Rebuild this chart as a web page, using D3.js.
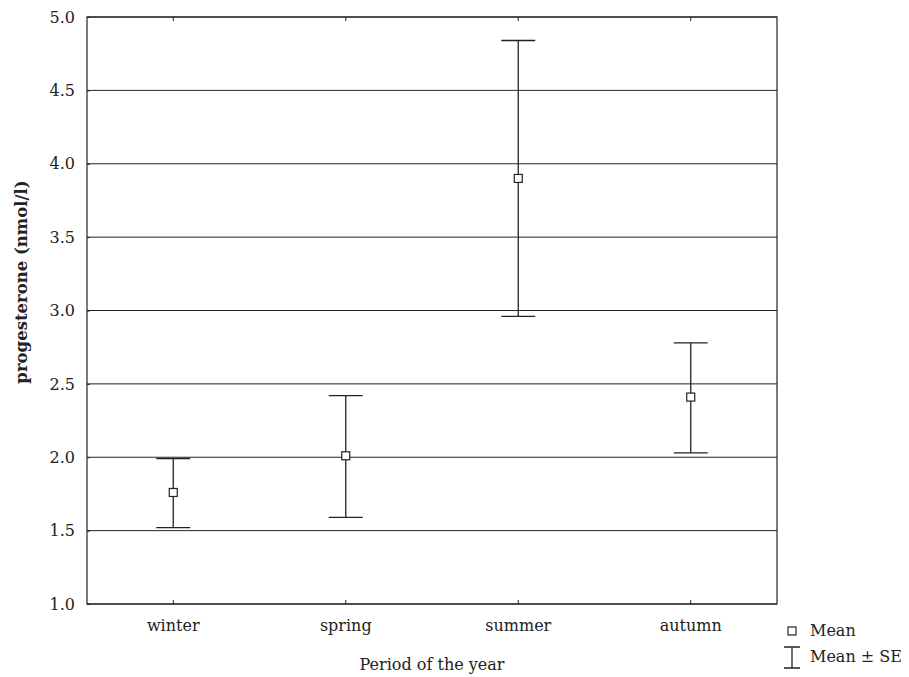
<!DOCTYPE html>
<html>
<head>
<meta charset="utf-8">
<script src="https://cdn.jsdelivr.net/npm/d3@7"></script>
<style>
  body { margin: 0; background: white; }
  text { font-family: "DejaVu Serif", serif; fill: #222; }
</style>
</head>
<body>
<div id="chart"></div>
<script>
const seasons = ["winter", "spring", "summer", "autumn"];
const means = [1.76, 2.01, 3.90, 2.41];
const upper = [1.99, 2.42, 4.84, 2.78];
const lower = [1.52, 1.59, 2.96, 2.03];
const yTicks = [1.0, 1.5, 2.0, 2.5, 3.0, 3.5, 4.0, 4.5, 5.0];

const width = 909;
const height = 677;
const margin = { top: 17, right: 132, bottom: 73, left: 87 };
const ink = "#222";
const fs = 16;

const svg = d3
  .select("#chart")
  .append("svg")
  .attr("width", width)
  .attr("height", height);

const x = d3
  .scaleBand()
  .domain(seasons)
  .range([margin.left, width - margin.right])
  .padding(0);

const y = d3
  .scaleLinear()
  .domain([1, 5])
  .range([height - margin.bottom, margin.top]);

const cx = (d) => x(d) + x.bandwidth() / 2;

// grid
svg
  .append("g")
  .selectAll("line")
  .data(yTicks)
  .join("line")
  .attr("x1", margin.left)
  .attr("x2", width - margin.right)
  .attr("y1", (d) => y(d))
  .attr("y2", (d) => y(d))
  .attr("stroke", ink)
  .attr("stroke-width", 1);

// frame
svg
  .append("rect")
  .attr("x", margin.left)
  .attr("y", margin.top)
  .attr("width", width - margin.left - margin.right)
  .attr("height", height - margin.top - margin.bottom)
  .attr("fill", "none")
  .attr("stroke", ink)
  .attr("stroke-width", 1.2);

// axes (ticks pointing inward)
function yAxis(g) {
  g.attr("transform", `translate(${margin.left},0)`)
    .call(d3.axisLeft(y).tickValues(yTicks).tickFormat(d3.format(".1f")).tickSize(-3).tickPadding(12))
    .call((g) => g.select(".domain").remove())
    .call((g) => g.selectAll("line").attr("stroke", ink))
    .call((g) => g.selectAll("text").attr("font-size", fs).attr("font-family", "DejaVu Serif").attr("fill", ink));
}
function xAxis(g) {
  g.attr("transform", `translate(0,${height - margin.bottom})`)
    .call(d3.axisBottom(x).tickSize(-4).tickPadding(16))
    .call((g) => g.select(".domain").remove())
    .call((g) => g.selectAll("line").attr("stroke", ink))
    .call((g) => g.selectAll("text").attr("font-size", fs).attr("font-family", "DejaVu Serif").attr("fill", ink));
}
function xTop(g) {
  g.attr("transform", `translate(0,${margin.top})`)
    .call(d3.axisTop(x).tickSize(-4).tickFormat(""))
    .call((g) => g.select(".domain").remove())
    .call((g) => g.selectAll("line").attr("stroke", ink));
}
svg.append("g").call(yAxis);
svg.append("g").call(xAxis);
svg.append("g").call(xTop);

// error bars
const capW = 17;
const bars = svg.append("g").attr("stroke", ink).attr("stroke-width", 1.3);
bars
  .selectAll("line.whisker")
  .data(seasons)
  .join("line")
  .attr("class", "whisker")
  .attr("x1", cx)
  .attr("x2", cx)
  .attr("y1", (d, i) => y(upper[i]))
  .attr("y2", (d, i) => y(lower[i]));
bars
  .selectAll("line.capTop")
  .data(seasons)
  .join("line")
  .attr("class", "capTop")
  .attr("x1", (d) => cx(d) - capW)
  .attr("x2", (d) => cx(d) + capW)
  .attr("y1", (d, i) => y(upper[i]))
  .attr("y2", (d, i) => y(upper[i]));
bars
  .selectAll("line.capBot")
  .data(seasons)
  .join("line")
  .attr("class", "capBot")
  .attr("x1", (d) => cx(d) - capW)
  .attr("x2", (d) => cx(d) + capW)
  .attr("y1", (d, i) => y(lower[i]))
  .attr("y2", (d, i) => y(lower[i]));

// mean markers
const sq = 8;
svg
  .append("g")
  .selectAll("rect")
  .data(seasons)
  .join("rect")
  .attr("x", (d) => cx(d) - sq / 2)
  .attr("y", (d, i) => y(means[i]) - sq / 2)
  .attr("width", sq)
  .attr("height", sq)
  .attr("fill", "white")
  .attr("stroke", ink)
  .attr("stroke-width", 1.2);

// axis titles
svg
  .append("text")
  .attr("x", (margin.left + width - margin.right) / 2)
  .attr("y", 670)
  .attr("text-anchor", "middle")
  .attr("font-size", fs)
  .text("Period of the year");

svg
  .append("text")
  .attr("transform", "translate(27,282) rotate(-90)")
  .attr("text-anchor", "middle")
  .attr("font-size", 16.5)
  .attr("font-weight", "bold")
  .text("progesterone (nmol/l)");

// legend
const lg = svg.append("g").attr("transform", "translate(792,0)");
lg.append("rect")
  .attr("x", -4)
  .attr("y", 627)
  .attr("width", 8)
  .attr("height", 8)
  .attr("fill", "white")
  .attr("stroke", ink)
  .attr("stroke-width", 1.2);
lg.append("text").attr("x", 18).attr("y", 636).attr("font-size", fs).text("Mean");
lg.append("path")
  .attr("d", "M-8,647H8M0,647V668M-8,668H8")
  .attr("fill", "none")
  .attr("stroke", ink)
  .attr("stroke-width", 1.3);
lg.append("text").attr("x", 18).attr("y", 662).attr("font-size", fs).text("Mean ± SE");
</script>
</body>
</html>
